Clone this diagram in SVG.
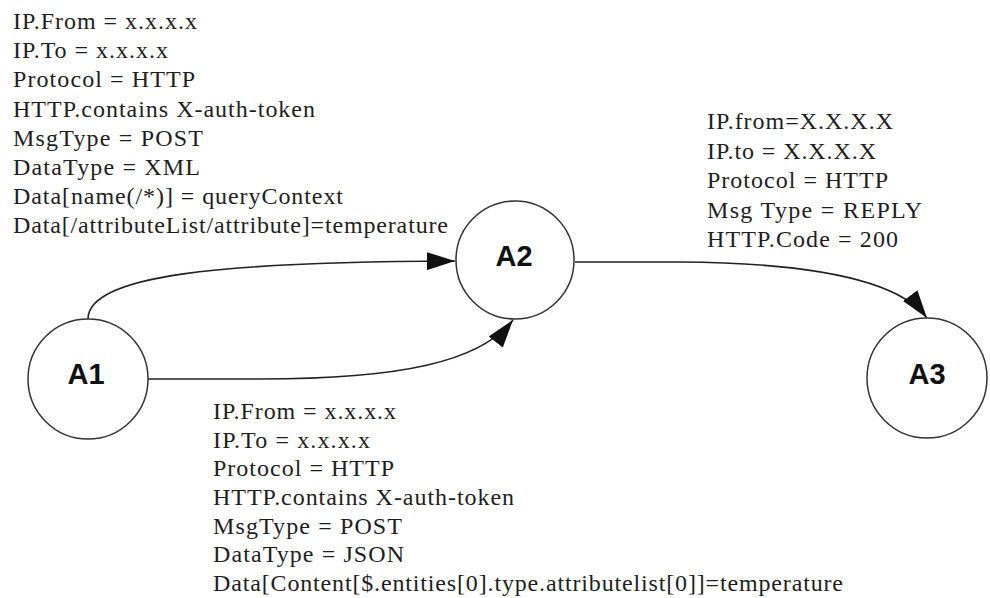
<svg xmlns="http://www.w3.org/2000/svg" width="990" height="598" viewBox="0 0 990 598">
<style>
.t{font-family:"Liberation Serif","Times New Roman",serif;font-size:24px;fill:#1e1e1e}
.n{font-family:"Liberation Sans",Arial,sans-serif;font-size:29px;font-weight:bold;fill:#111;text-anchor:middle}
.c{fill:#fff;stroke:#333;stroke-width:1.5}
.e{fill:none;stroke:#222;stroke-width:1.6}
</style>
<defs>
<marker id="ah" viewBox="0 0 28 18" refX="28" refY="9" markerWidth="28" markerHeight="18" markerUnits="userSpaceOnUse" orient="auto">
<path d="M0,0 L28,9 L0,18 Z" fill="#111"/>
</marker>
</defs>
<rect width="990" height="598" fill="#fff"/>
<g id="connectors">
<path class="e" d="M88,319 C88,275 220,262 455,261" marker-end="url(#ah)"/>
<path class="e" d="M148,379 L260,379 C400,379 480,362 513,320" marker-end="url(#ah)"/>
<path class="e" d="M575,262 L680,262 C820,263 900,282 927,318" marker-end="url(#ah)"/>
</g>
<g id="A1"><circle class="c" cx="88" cy="379" r="60"/><text class="n" x="86" y="384">A1</text></g>
<g id="A2"><circle class="c" cx="515" cy="260" r="59"/><text class="n" x="514" y="266">A2</text></g>
<g id="A3"><circle class="c" cx="927" cy="378" r="60"/><text class="n" x="927" y="384">A3</text></g>
<g id="label-top">
<text class="t" x="13" y="29" textLength="184">IP.From = x.x.x.x</text>
<text class="t" x="13" y="58" textLength="155">IP.To = x.x.x.x</text>
<text class="t" x="13" y="87" textLength="182">Protocol = HTTP</text>
<text class="t" x="13" y="116.5" textLength="302">HTTP.contains X-auth-token</text>
<text class="t" x="13" y="145.5" textLength="190">MsgType = POST</text>
<text class="t" x="13" y="174.7" textLength="187">DataType = XML</text>
<text class="t" x="13" y="204" textLength="330">Data[name(/*)] = queryContext</text>
<text class="t" x="13" y="233" textLength="435">Data[/attributeList/attribute]=temperature</text>
</g>
<g id="label-right">
<text class="t" x="707" y="129" textLength="186">IP.from=X.X.X.X</text>
<text class="t" x="707" y="158.5" textLength="169">IP.to = X.X.X.X</text>
<text class="t" x="707" y="188" textLength="181">Protocol = HTTP</text>
<text class="t" x="707" y="217.5" textLength="215">Msg Type = REPLY</text>
<text class="t" x="707" y="247" textLength="191">HTTP.Code = 200</text>
</g>
<g id="label-bottom">
<text class="t" x="213" y="419" textLength="183">IP.From = x.x.x.x</text>
<text class="t" x="213" y="447.7" textLength="157">IP.To = x.x.x.x</text>
<text class="t" x="213" y="476.3" textLength="181">Protocol = HTTP</text>
<text class="t" x="213" y="505" textLength="301">HTTP.contains X-auth-token</text>
<text class="t" x="213" y="533.7" textLength="189">MsgType = POST</text>
<text class="t" x="213" y="562.3" textLength="191">DataType = JSON</text>
<text class="t" x="213" y="591" textLength="630">Data[Content[$.entities[0].type.attributelist[0]]=temperature</text>
</g>
</svg>
